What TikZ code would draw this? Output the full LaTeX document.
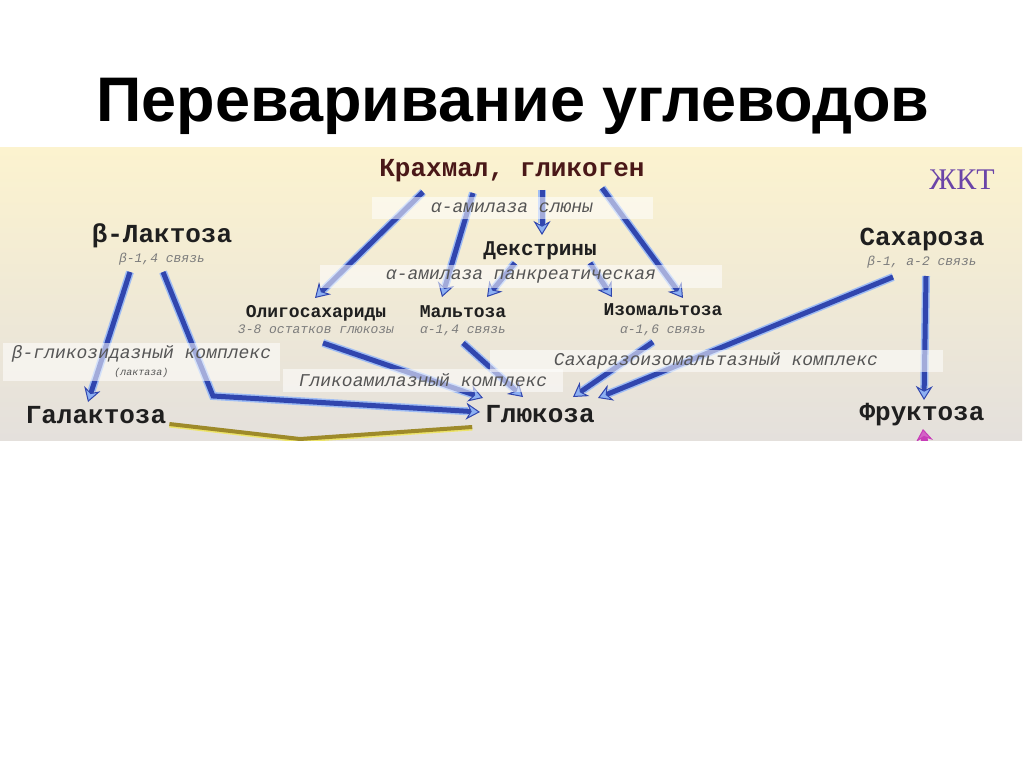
\documentclass[tikz,border=0pt]{standalone}
\usepackage{fontspec}
\setmainfont{Liberation Sans}
\newfontfamily\monofont{Liberation Mono}
\newfontfamily\serfont{Liberation Serif}
\usetikzlibrary{positioning, calc, arrows.meta}

\definecolor{panelTop}{HTML}{FCF3CF}
\definecolor{panelBottom}{HTML}{E4E0DC}
\definecolor{pipeBlue}{HTML}{3146AE}
\definecolor{tipBlue}{HTML}{8DB0F2}
\definecolor{oliveLine}{HTML}{9E8A2A}
\definecolor{oliveGlow}{HTML}{EDE46A}
\definecolor{pinkPipe}{HTML}{C83CB8}
\definecolor{zktPurple}{HTML}{6B45A8}
\definecolor{starchRed}{HTML}{4A1818}
\definecolor{labelGray}{HTML}{7C7C7C}
\definecolor{enzymeGray}{HTML}{555555}

\begin{document}
\begin{tikzpicture}
    [x=1pt, y=-1pt,
    titletext/.style={anchor=base, inner sep=0pt, font=\bfseries\fontsize{63}{70}\selectfont},
    substance/.style={anchor=base, inner sep=0pt, text=black!88, font=\monofont\bfseries\fontsize{26}{28}\selectfont},
    product/.style={anchor=base, inner sep=0pt, text=black!88, font=\monofont\bfseries\fontsize{18}{20}\selectfont},
    bond/.style={inner sep=0pt, text=labelGray, font=\monofont\itshape\fontsize{13}{15}\selectfont},
    enzyme/.style={fill=white, fill opacity=0.55, text opacity=1, text=enzymeGray, inner sep=0pt, font=\monofont\itshape\fontsize{18}{20}\selectfont},
    pipe/.style={line width=5pt, draw=pipeBlue, -{Stealth[length=14pt, width=17pt, fill=tipBlue, line width=1pt]},
        preaction={draw=tipBlue!85!white, line width=8pt, -, shorten >=12pt}},
    olive/.style={line width=4pt, draw=oliveLine,
        preaction={draw=oliveGlow, line width=4pt, transform canvas={yshift=-1.5pt}}},
    pinkpipe/.style={line width=7pt, draw=pinkPipe, -{Stealth[length=12pt, width=17pt, fill=pinkPipe!80!white, line width=1pt]}}]

    \useasboundingbox (0,0) rectangle (1024,767);

    %Panel
    \shade[top color=panelTop, bottom color=panelBottom] (0,148) rectangle (1022,440);

    %Title
    \node[titletext](title) at (513,122){Переваривание углеводов};
    \node[anchor=base, inner sep=0pt, text=zktPurple, font=\serfont\fontsize{30}{32}\selectfont](zkt) at (962,190){ЖКТ};

    %Substances
    \node[substance, text=starchRed](krahmal) at (512,177){Крахмал, гликоген};
    \node[substance](laktoza) at (162,243){β-Лактоза};
    \node[substance](saharoza) at (922,245){Сахароза};
    \node[product, font=\monofont\bfseries\fontsize{21}{23}\selectfont](dekstr) at (540,255){Декстрины};
    \node[product](oligo) at (316,317){Олигосахариды};
    \node[product](maltoza) at (463,317){Мальтоза};
    \node[product](izomalt) at (663,315){Изомальтоза};
    \node[substance](galakt) at (96,423){Галактоза};
    \node[substance](gluk) at (540,422){Глюкоза};
    \node[substance](frukt) at (922,420){Фруктоза};

    %Bonds
    \node[bond](laksv)[below=19pt of laktoza.base, anchor=base]{β-1,4 связь};
    \node[bond](sahsv)[below=20pt of saharoza.base, anchor=base]{β-1, а-2 связь};
    \node[bond](oligosv)[below=16pt of oligo.base, anchor=base]{3-8 остатков глюкозы};
    \node[bond](maltsv)[below=16pt of maltoza.base, anchor=base]{α-1,4 связь};
    \node[bond](izosv)[below=18pt of izomalt.base, anchor=base]{α-1,6 связь};

    %Arrows
    \coordinate (lakbend) at (213,396);
    \draw[pipe] ([xshift=-89pt,yshift=-15pt]krahmal.base) -- ([xshift=-1pt,yshift=19pt]oligo.base);
    \draw[pipe] ([xshift=-39pt,yshift=-16pt]krahmal.base) -- ([xshift=-21pt,yshift=20pt]maltoza.base);
    \draw[pipe] ([xshift=30pt,yshift=-13pt]krahmal.base) -- ([xshift=2pt,yshift=20pt]dekstr.base);
    \draw[pipe] ([xshift=90pt,yshift=-11pt]krahmal.base) -- ([xshift=20pt,yshift=17pt]izomalt.base);
    \draw[pipe] ([xshift=-25pt,yshift=-8pt]dekstr.base) -- ([xshift=24pt,yshift=20pt]maltoza.base);
    \draw[pipe] ([xshift=50pt,yshift=-8pt]dekstr.base) -- ([xshift=-51pt,yshift=18pt]izomalt.base);
    \draw[pipe] ([xshift=-32pt,yshift=-29pt]laktoza.base) -- ([xshift=-8pt,yshift=21pt]galakt.base);
    \draw[pipe] ([xshift=1pt,yshift=-29pt]laktoza.base) -- (lakbend) -- ([xshift=-60pt,yshift=10pt]gluk.base);
    \draw[pipe] ([xshift=7pt,yshift=-26pt]oligo.base) -- ([xshift=-57pt,yshift=24pt]gluk.base);
    \draw[pipe] ([yshift=-26pt]maltoza.base) -- ([xshift=-17pt,yshift=25pt]gluk.base);
    \draw[pipe] ([xshift=-10pt,yshift=-27pt]izomalt.base) -- ([xshift=33pt,yshift=25pt]gluk.base);
    \draw[pipe] ([xshift=-29pt,yshift=-32pt]saharoza.base) -- ([xshift=58pt,yshift=24pt]gluk.base);
    \draw[pipe] ([xshift=4pt,yshift=-31pt]saharoza.base) -- ([xshift=2pt,yshift=20pt]frukt.base);

    %Lines below the panel edge
    \begin{scope}
        \clip (0,148) rectangle (1022,440);
        \coordinate (vtip) at (300,439);
        \coordinate (glikoliz) at (928,470);
        \draw[olive] ([xshift=3pt,yshift=-1pt]galakt.base east) -- (vtip) -- ([xshift=-13pt,yshift=-5pt]gluk.base west);
        \draw[pinkpipe] (glikoliz) -- ([xshift=1pt,yshift=-9pt]frukt.base);
    \end{scope}

    %Enzymes
    \node[enzyme, minimum width=281pt, minimum height=22pt](slyuna) at (512,208){α-амилаза слюны};
    \node[enzyme, minimum width=402pt, minimum height=23pt](pankr) at (521,276.5){α-амилаза панкреатическая};
    \node[enzyme, minimum width=277pt, minimum height=38pt, align=center](laktaza) at (141.5,362){β-гликозидазный комплекс\\[-3pt]{\fontsize{10}{11}\selectfont(лактаза)}};
    \node[enzyme, minimum width=453pt, minimum height=22pt](sahiz) at (716,361){Сахаразоизомальтазный комплекс};
    \node[enzyme, minimum width=280pt, minimum height=23pt](glikoam) at (423,380.5){Гликоамилазный комплекс};

\end{tikzpicture}
\end{document}
